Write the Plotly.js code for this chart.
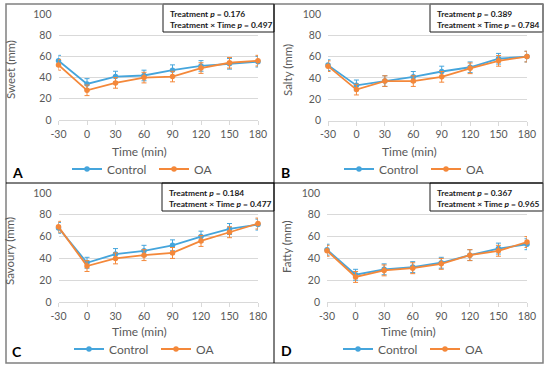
<!DOCTYPE html>
<html>
<head>
<meta charset="utf-8">
<script src="https://cdn.plot.ly/plotly-3.0.1.min.js"></script>
<style>html,body{margin:0;padding:0;background:#fff;}#chart{width:550px;height:370px;}</style>
</head>
<body>
<div id="chart"></div>
<script>
// ---- data ----
var times = [-30, 0, 30, 60, 90, 120, 150, 180];
var tickLabels = ["-30", "0", "30", "60", "90", "120", "150", "180"];
var seriesNames = ["Control", "OA"];
var panelLetters = ["A", "B", "C", "D"];
var panelYTitles = ["Sweet (mm)", "Salty (mm)", "Savoury (mm)", "Fatty (mm)"];
var treatmentP = ["0.176", "0.389", "0.184", "0.367"];
var interactionP = ["0.497", "0.784", "0.477", "0.965"];

var sweetControl   = [56, 34, 41, 42, 47, 51, 53, 55];
var sweetOA        = [52, 28, 35, 40, 41, 49, 54, 56];
var saltyControl   = [52, 33, 37, 41, 46, 50, 58, 60];
var saltyOA        = [51, 29, 37, 37, 41, 49, 56, 60];
var savouryControl = [68, 36, 44, 47, 52, 60, 67, 71];
var savouryOA      = [69, 33, 40, 43, 45, 56, 64, 72];
var fattyControl   = [48, 25, 30, 32, 36, 43, 49, 53];
var fattyOA        = [47, 23, 29, 31, 35, 43, 47, 55];

var sweetControlErr   = [5, 5, 5, 5, 5, 5, 5, 5];
var sweetOAErr        = [5, 5, 5, 5, 5, 5, 5, 5];
var saltyControlErr   = [5, 5, 5, 5, 5, 5, 5, 5];
var saltyOAErr        = [5, 5, 5, 5, 5, 5, 5, 5];
var savouryControlErr = [5, 5, 5, 5, 5, 5, 5, 5];
var savouryOAErr      = [5, 5, 5, 5, 5, 5, 5, 5];
var fattyControlErr   = [5, 5, 5, 5, 5, 5, 5, 5];
var fattyOAErr        = [5, 5, 5, 5, 5, 5, 5, 5];

var controlSets = [sweetControl, saltyControl, savouryControl, fattyControl];
var oaSets = [sweetOA, saltyOA, savouryOA, fattyOA];
var controlErrs = [sweetControlErr, saltyControlErr, savouryControlErr, fattyControlErr];
var oaErrs = [sweetOAErr, saltyOAErr, savouryOAErr, fattyOAErr];

// ---- styling / layout ----
var W = 550, H = 370;
function px(x) { return x / W; }
function py(y) { return 1 - y / H; }
var FONT = "Lato, 'Open Sans', sans-serif";
var BLUE = "#45A5DC", ORANGE = "#F4883A";
var GREY_TXT = "#595959", GRID = "#D9D9D9";

var panels = [
  {x0: 58.5, x1: 258, y0: 14, y1: 120, letterX: 17, letterY: 172, ytX: 10, ytY: 70, xtX: 140, xtY: 151, legX: 154, legY: 169, box: [163, 274, 4, 32]},
  {x0: 328, x1: 527, y0: 14, y1: 120.5, letterX: 285, letterY: 172, ytX: 287, ytY: 70, xtX: 409, xtY: 151, legX: 426, legY: 169, box: [430, 543, 4, 32]},
  {x0: 58.5, x1: 258, y0: 193, y1: 302, letterX: 17, letterY: 351, ytX: 10, ytY: 251, xtX: 140, xtY: 331, legX: 156, legY: 349, box: [162, 274, 183, 211]},
  {x0: 327, x1: 527, y0: 193, y1: 302, letterX: 286, letterY: 350, ytX: 287, ytY: 247, xtX: 408, xtY: 331, legX: 425, legY: 349, box: [430, 543, 183, 211]}
];

var data = [];
var layout = {
  width: W, height: H,
  margin: {l: 0, r: 0, t: 0, b: 0},
  paper_bgcolor: "#ffffff", plot_bgcolor: "rgba(0,0,0,0)",
  font: {family: FONT, size: 10, color: GREY_TXT},
  shapes: [], annotations: []
};

panels.forEach(function (p, i) {
  var n = i + 1;
  var xa = "x" + (n === 1 ? "" : n), ya = "y" + (n === 1 ? "" : n);
  var legName = "legend" + (n === 1 ? "" : n);
  var sets = [controlSets[i], oaSets[i]];
  var errs = [controlErrs[i], oaErrs[i]];
  var cols = [BLUE, ORANGE];
  for (var s = 0; s < 2; s++) {
    data.push({
      type: "scatter", mode: "lines+markers",
      x: times, y: sets[s], name: seriesNames[s],
      xaxis: xa, yaxis: ya, legend: legName,
      cliponaxis: false,
      line: {color: cols[s], width: 1.8},
      marker: {color: cols[s], size: 5.5, symbol: "circle"},
      error_y: {type: "data", array: errs[s], visible: true, color: cols[s], thickness: 1, width: 2.5},
      hoverinfo: "x+y"
    });
  }
  layout["xaxis" + (n === 1 ? "" : n)] = {
    domain: [px(p.x0), px(p.x1)], anchor: ya,
    range: [-30, 180], tickmode: "array", tickvals: times, ticktext: tickLabels,
    showgrid: false, zeroline: false,
    showline: true, linecolor: GRID, linewidth: 1,
    ticks: "outside", ticklen: 4, tickcolor: GRID, tickwidth: 1,
    tickfont: {family: FONT, size: 10.5, color: GREY_TXT},
    fixedrange: true
  };
  layout["yaxis" + (n === 1 ? "" : n)] = {
    domain: [py(p.y1), py(p.y0)], anchor: xa,
    range: [0, 100], dtick: 20, tick0: 0,
    showgrid: true, gridcolor: GRID, gridwidth: 1,
    zeroline: false, showline: false, ticks: "",
    ticklabelstandoff: 6,
    tickfont: {family: FONT, size: 10.5, color: GREY_TXT},
    fixedrange: true
  };
  layout[legName] = {
    orientation: "h", x: px(p.legX), y: py(p.legY), xanchor: "center", yanchor: "middle",
    bgcolor: "rgba(0,0,0,0)", font: {family: FONT, size: 12, color: GREY_TXT},
    itemwidth: 30, tracegroupgap: 0, entrywidthmode: "pixels", entrywidth: 42
  };
  layout.annotations.push({
    xref: "paper", yref: "paper", x: px(p.ytX), y: py(p.ytY), text: panelYTitles[i],
    textangle: -90, showarrow: false, xanchor: "center", yanchor: "middle",
    font: {family: FONT, size: 11.5, color: GREY_TXT}
  });
  layout.annotations.push({
    xref: "paper", yref: "paper", x: px(p.xtX), y: py(p.xtY), text: "Time (min)",
    showarrow: false, xanchor: "center", yanchor: "middle",
    font: {family: FONT, size: 12, color: GREY_TXT}
  });
  layout.annotations.push({
    xref: "paper", yref: "paper", x: px(p.letterX), y: py(p.letterY), text: "<b>" + panelLetters[i] + "</b>",
    showarrow: false, xanchor: "center", yanchor: "middle",
    font: {family: FONT, size: 14, color: "#000000"}
  });
  var b = p.box;
  layout.shapes.push({type: "rect", xref: "paper", yref: "paper",
    x0: px(b[0]), x1: px(b[1]), y0: py(b[3]), y1: py(b[2]),
    line: {color: "#1a1a1a", width: 1}, fillcolor: "#ffffff", layer: "below"});
  layout.annotations.push({
    xref: "paper", yref: "paper", x: px(b[0] + 5), y: py(b[2] + 15.5),
    text: "<b>Treatment <i>p</i> = " + treatmentP[i] + "</b><br><b>Treatment × Time <i>p</i> = " + interactionP[i] + "</b>",
    showarrow: false, xanchor: "left", yanchor: "middle", align: "left",
    font: {family: FONT, size: 8.4, color: "#1a1a1a"}
  });
});

layout.shapes.push({type: "rect", xref: "paper", yref: "paper", x0: px(6), x1: px(543), y0: py(363), y1: py(4),
  line: {color: "#808080", width: 1.5}});
layout.shapes.push({type: "line", xref: "paper", yref: "paper", x0: px(274), x1: px(274), y0: py(363), y1: py(4),
  line: {color: "#000000", width: 1}});
layout.shapes.push({type: "line", xref: "paper", yref: "paper", x0: px(6), x1: px(543), y0: py(183), y1: py(183),
  line: {color: "#000000", width: 1}});

Plotly.newPlot("chart", data, layout, {displayModeBar: false, staticPlot: true});
</script>
</body>
</html>
